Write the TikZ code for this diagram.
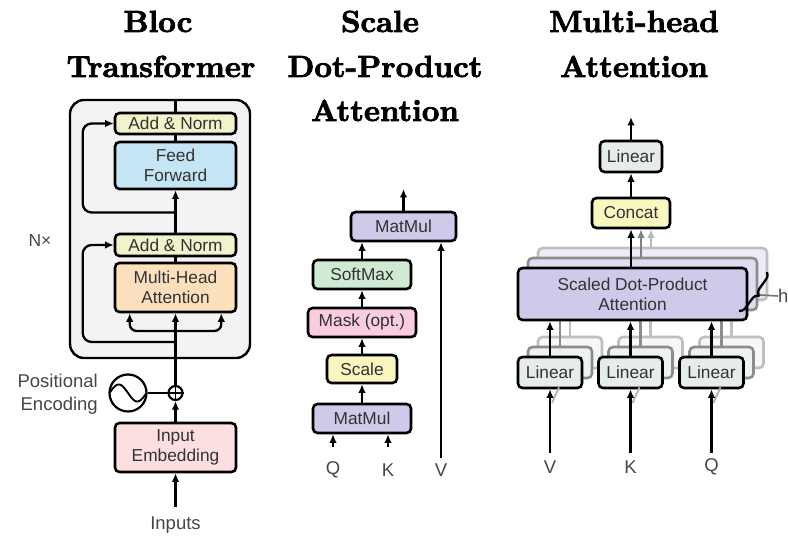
\documentclass[tikz,border=0pt]{standalone}
\usepackage{fontspec}
\newfontfamily\hv{Liberation Sans}
\newfontfamily\ttl{lmroman10-bold.otf}[FakeBold=2.4]
\usetikzlibrary{arrows.meta,decorations.pathreplacing,calc}

\definecolor{txt}{RGB}{50,50,50}
\definecolor{labtxt}{RGB}{70,70,70}
\definecolor{addnorm}{RGB}{241,243,203}
\definecolor{ffblue}{RGB}{197,229,245}
\definecolor{mhapeach}{RGB}{252,224,190}
\definecolor{embpink}{RGB}{252,224,225}
\definecolor{outerg}{RGB}{243,243,243}
\definecolor{lav}{RGB}{209,201,233}
\definecolor{smgreen}{RGB}{207,233,211}
\definecolor{maskpink}{RGB}{249,204,224}
\definecolor{scyellow}{RGB}{250,246,192}
\definecolor{lingray}{RGB}{229,236,233}

\newcommand\boxfont{\hv\fontsize{17.3}{20}\selectfont}
\newcommand\labfont{\hv\fontsize{18.5}{23}\selectfont}
\newcommand\titlefont{\ttl\fontsize{30.5}{36}\selectfont}

\begin{document}
\begin{tikzpicture}[x=1pt,y=-1pt,
  box/.style={draw=black, line width=2.6pt, rounded corners=4.5pt, inner sep=0pt,
              align=center, text=txt, font=\boxfont},
  ghostA/.style={box, draw=black!45, fill=#1!65!white},
  ghostB/.style={box, draw=black!25, fill=#1!38!white},
  outerbox/.style={draw=black, line width=2.4pt, rounded corners=14pt, fill=outerg, inner sep=0pt},
  lab/.style={text=labtxt, font=\labfont, inner sep=0pt},
  title/.style={text=black, font=\titlefont, inner sep=0pt},
  wire/.style={line width=2.3pt},
  arr/.style={line width=2.3pt, -{Latex[length=8.5pt,width=7.5pt]}},
  garrA/.style={line width=2.3pt, draw=black!50, -{Latex[length=8.5pt,width=7.5pt]}},
  garrB/.style={line width=2.3pt, draw=black!28, -{Latex[length=8.5pt,width=7.5pt]}},
  gwireA/.style={line width=2.3pt, draw=black!45},
  gwireB/.style={line width=2.3pt, draw=black!25}]
\useasboundingbox (0,0) rectangle (788,540);

% ---------------- titles ----------------
\node[title, anchor=base] (t1a) at (158,32) {Bloc};
\node[title, anchor=base] (t1b) at (161,77) {Transformer};
\node[title, anchor=base] (t2a) at (380,32) {Scale};
\node[title, anchor=base] (t2b) at (385,77) {Dot-Product};
\node[title, anchor=base] (t2c) at (385,121) {Attention};
\node[title, anchor=base] (t3a) at (634,32) {Multi-head};
\node[title, anchor=base] (t3b) at (634,77) {Attention};

% ---------------- encoder block ----------------
\node[outerbox, minimum width=180, minimum height=258] (blk) at (160,229) {};
\node[box, fill=addnorm, minimum width=121, minimum height=21] (an2) at (175.5,123.5) {Add \& Norm};
\node[box, fill=ffblue, minimum width=121, minimum height=47] (ff) at (175.5,165.5) {Feed\\Forward};
\node[box, fill=addnorm, minimum width=121, minimum height=22] (an1) at (175.5,245) {Add \& Norm};
\node[box, fill=mhapeach, minimum width=121, minimum height=49] (mha) at (175.5,287.5) {Multi-Head\\Attention};
\node[box, fill=embpink, minimum width=121, minimum height=49] (emb) at (175.5,447.5) {Input\\Embedding};
\node[circle, draw, line width=2.2pt, minimum size=14, inner sep=0pt] (plus) at (175.5,393) {};
\node[circle, draw, line width=2.2pt, minimum size=37, inner sep=0pt] (pe) at (128,393) {};
\node[lab, anchor=east, align=right] (pelab) at (98,394) {Positional\\Encoding};
\node[lab] (inp) at (175.5,525) {Inputs};
\node[lab, font=\hv\fontsize{17.5}{20}\selectfont] (nx) at (40,240) {N×};

\coordinate (j2) at (175.5,212.5);
\coordinate (j1) at (175.5,342);
\coordinate (jb) at (175.5,331);
\coordinate (in0) at (175.5,507);

\draw[wire] (an2.north |- blk.north) -- (an2.north);
\draw[wire] (ff.north) -- (an2.south);
\draw[arr] (an1.north) -- (ff.south);
\draw[arr, rounded corners=9pt] (j2) -| ([xshift=-31pt]an2.west) -- (an2.west);
\draw[wire] (mha.north) -- (an1.south);
\draw[arr, rounded corners=9pt] (j1) -| ([xshift=-31pt]an1.west) -- (an1.west);
\draw[arr] (plus.north) -- (mha.south);
\draw[arr, rounded corners=7pt] (jb) -| ([xshift=16pt]mha.south west);
\draw[arr, rounded corners=7pt] (jb) -| ([xshift=-16pt]mha.south east);
\draw[wire] (pe.east) -- (plus.west);
\draw[line width=1.7pt] (plus.north) -- (plus.south) (plus.west) -- (plus.east);
\draw[arr] (emb.north) -- (plus.south);
\draw[arr] (in0) -- (emb.south);
\draw[line width=1.9pt, smooth] plot[domain=-18.5:18.5, samples=40] ({128+\x},{393+8.5*sin(\x*180/18.5)});

% ---------------- scaled dot-product attention ----------------
\node[box, fill=lav, minimum width=105, minimum height=29] (mm2) at (403.5,226.5) {MatMul};
\node[box, fill=smgreen, minimum width=98, minimum height=29] (sm) at (362,274.5) {SoftMax};
\node[box, fill=maskpink, minimum width=108, minimum height=29] (mask) at (362,322.5) {Mask (opt.)};
\node[box, fill=scyellow, minimum width=70, minimum height=28] (sc) at (362,369) {Scale};
\node[box, fill=lav, minimum width=98, minimum height=29] (mm1) at (362,418.5) {MatMul};
\node[lab] (q1) at (333,470) {Q};
\node[lab] (k1) at (388,470) {K};
\node[lab] (v1) at (441,470) {V};
\coordinate (qa) at (333,447);
\coordinate (ka) at (388,447);
\coordinate (va) at (441,458);
\coordinate (o2) at (403.5,189);

\draw[arr] (qa) -- (qa |- mm1.south);
\draw[arr] (ka) -- (ka |- mm1.south);
\draw[arr] (va) -- (va |- mm2.south);
\draw[arr] (mm1.north) -- (sc.south);
\draw[arr] (sc.north) -- (mask.south);
\draw[arr] (mask.north) -- (sm.south);
\draw[arr] (sm.north) -- (sm.north |- mm2.south);
\draw[arr] (mm2.north) -- (o2);

% ---------------- multi-head attention ----------------
\coordinate (sdc) at (632.5,294);
\coordinate (lvc) at (550,372.5);
\coordinate (lkc) at (630.5,372.5);
\coordinate (lqc) at (711.5,372.5);

% stacked copies behind the front heads
\node[ghostB=lav, minimum width=229, minimum height=52] (sd3) at ($(sdc)+(20,-20)$) {};
\node[ghostA=lav, minimum width=229, minimum height=52] (sd2) at ($(sdc)+(10,-10)$) {};
\foreach \c/\n in {lvc/v, lkc/k, lqc/q}{
  \node[ghostB=lingray, minimum width=64, minimum height=31] (l\n3) at ($(\c)+(20,-20)$) {};
  \node[ghostA=lingray, minimum width=64, minimum height=31] (l\n2) at ($(\c)+(10,-10)$) {};
}
\foreach \n in {v,k,q}{
  \draw[gwireB] (l\n3.north) -- (l\n3.north |- sd3.south);
  \draw[gwireA] (l\n2.north) -- (l\n2.north |- sd2.south);
}

\node[box, fill=scyellow, minimum width=78, minimum height=30] (cc) at (631,213) {Concat};
\node[box, fill=lingray, minimum width=62, minimum height=31] (l4) at (631,156.5) {Linear};
\coordinate (o3) at (631,117);
\draw[garrB] ([xshift=20pt]cc.south |- sd3.north) -- ([xshift=20pt]cc.south);
\draw[garrA] ([xshift=10pt]cc.south |- sd2.north) -- ([xshift=10pt]cc.south);

\node[box, fill=lav, minimum width=229, minimum height=52] (sdpa) at (sdc) {Scaled Dot-Product\\Attention};
\node[box, fill=lingray, minimum width=64, minimum height=31] (lv) at (lvc) {Linear};
\node[box, fill=lingray, minimum width=64, minimum height=31] (lk) at (lkc) {Linear};
\node[box, fill=lingray, minimum width=64, minimum height=31] (lq) at (lqc) {Linear};

\node[lab] (v2) at (550,467) {V};
\node[lab] (k2) at (630.5,467) {K};
\node[lab] (q2) at (711.5,467) {Q};
\coordinate (va2) at (550,453);
\coordinate (ka2) at (630.5,453);
\coordinate (qa2) at (711.5,453);

\foreach \n/\p in {v/va2, k/ka2, q/qa2}{
  \draw[line width=1.8pt, draw=black!30] ($(\p)+(2,-50)$) -- ($(l\n.south)+(9,-2)$);
  \draw[arr] (\p) -- (l\n.south);
  \draw[arr] (l\n.north) -- (l\n.north |- sdpa.south);
}
\draw[arr] (cc.south |- sdpa.north) -- (cc.south);
\draw[arr] (cc.north) -- (l4.south);
\draw[arr] (l4.north) -- (o3);

% head count brace
\draw[line width=2.3pt, decorate, decoration={brace, amplitude=7pt}] (767,272) -- (739,311);
\coordinate (hb) at (760,295);
\node[lab, anchor=west] (hl) at (778,296) {h};
\draw[line width=1.6pt, draw=black!55] (hb) -- (hl.west);
\end{tikzpicture}
\end{document}
